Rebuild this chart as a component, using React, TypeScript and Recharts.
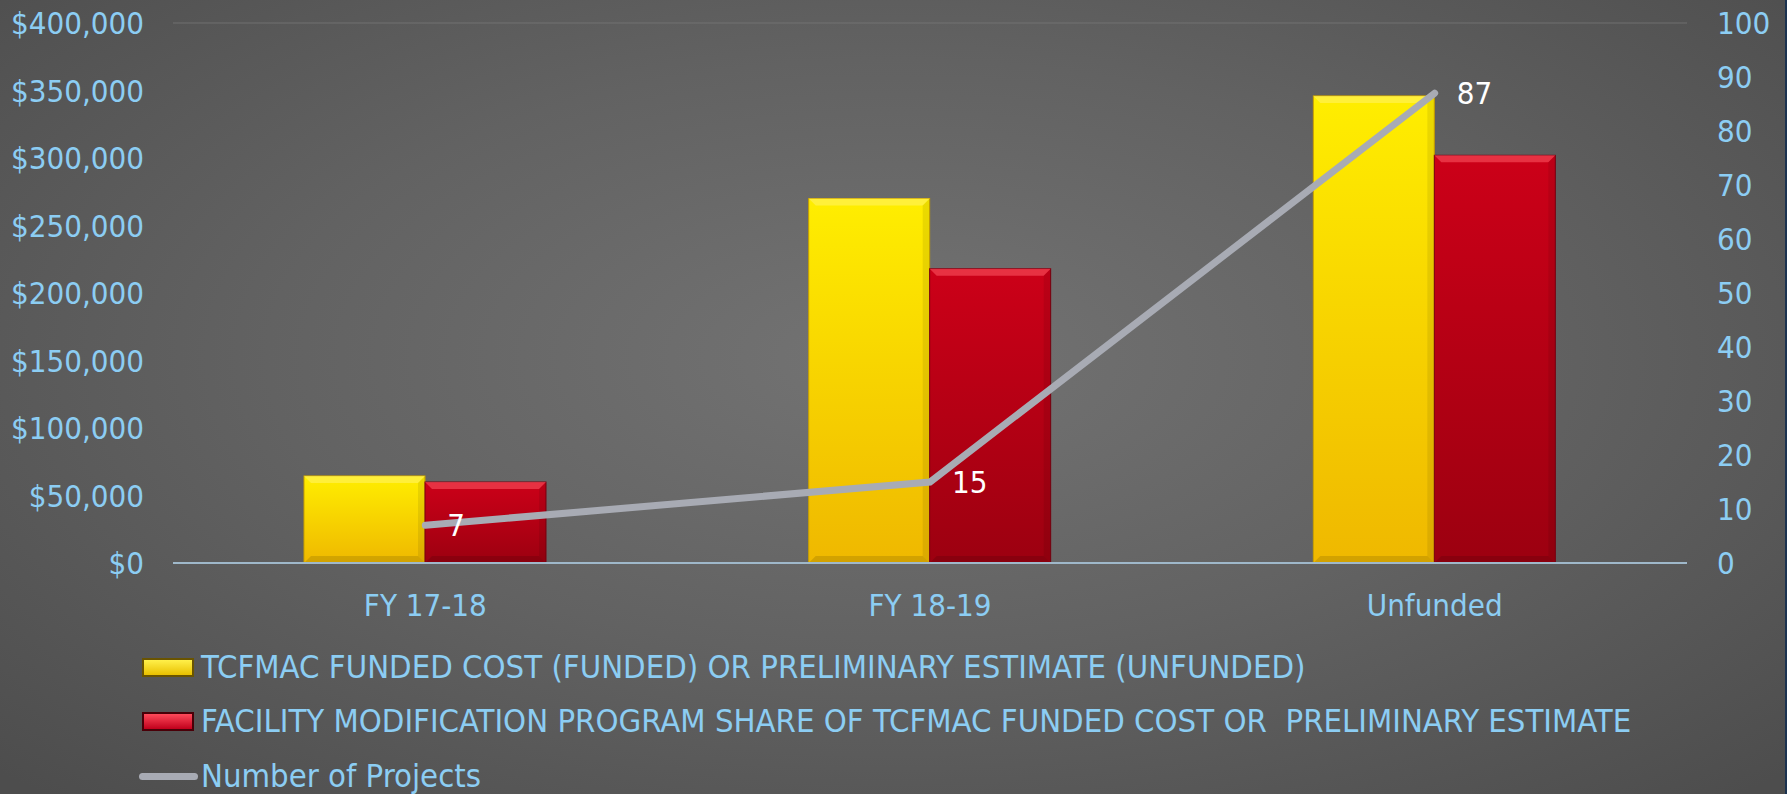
import React from 'react'
import { ComposedChart, Bar, Line, XAxis, YAxis, CartesianGrid, LabelList } from 'recharts'

const categories = ['FY 17-18', 'FY 18-19', 'Unfunded']
const fundedCost = [64500, 270000, 346000]
const programShare = [60000, 218000, 302000]
const projectCount = [7, 15, 87]
const costTicks = [0, 50000, 100000, 150000, 200000, 250000, 300000, 350000, 400000]
const countTicks = [0, 10, 20, 30, 40, 50, 60, 70, 80, 90, 100]

const seriesNames = [
  'TCFMAC FUNDED COST (FUNDED) OR PRELIMINARY ESTIMATE (UNFUNDED)',
  'FACILITY MODIFICATION PROGRAM SHARE OF TCFMAC FUNDED COST OR  PRELIMINARY ESTIMATE',
  'Number of Projects',
]

const data = categories.map((c, i) => ({
  name: c,
  funded: fundedCost[i],
  share: programShare[i],
  projects: projectCount[i],
}))

const FONT = "'DejaVu Sans Condensed', 'DejaVu Sans', sans-serif"
const BLUE = '#8ccdf3'

const fmtMoney = (v: number) => '$' + v.toLocaleString('en-US')

// bevelled bar like the office 3d preset
const makeBevel = (id: string, edge: string, light: string) => (props: any) => {
  const { x, y, width, height } = props
  if (!height || height <= 0) return null
  const b = 7
  return (
    <g>
      <rect x={x} y={y} width={width} height={height} fill={`url(#${id})`} stroke={edge} strokeWidth={1} />
      <polygon points={`${x},${y} ${x + width},${y} ${x + width - b},${y + b} ${x + b},${y + b}`} fill={light} opacity={0.55} />
      <polygon points={`${x + width},${y} ${x + width},${y + height} ${x + width - b},${y + height - b} ${x + width - b},${y + b}`} fill="#000" opacity={0.08} />
      <polygon points={`${x},${y + height} ${x + width},${y + height} ${x + width - b},${y + height - b} ${x + b},${y + height - b}`} fill="#000" opacity={0.12} />
    </g>
  )
}

const YellowBar = makeBevel('gYellow', '#c9a000', '#fff36a')
const RedBar = makeBevel('gRed', '#7a0010', '#ff5a66')

const rowStyle: React.CSSProperties = {
  position: 'absolute', left: 0, display: 'flex', alignItems: 'center', height: 34, whiteSpace: 'pre',
}

const LegendBox = () => (
  <div style={{ position: 'absolute', left: 139, top: 0, fontFamily: FONT, fontSize: 32.6, color: BLUE, lineHeight: '34px' }}>
    <div style={{ ...rowStyle, top: 650 }}>
      <span style={{ display: 'inline-block', width: 52, height: 19, marginLeft: 3, marginRight: 7, background: 'linear-gradient(#fff04a, #e9c000)', border: '2px solid #6a5400', boxSizing: 'border-box' }} />
      {seriesNames[0]}
    </div>
    <div style={{ ...rowStyle, top: 704 }}>
      <span style={{ display: 'inline-block', width: 52, height: 19, marginLeft: 3, marginRight: 7, background: 'linear-gradient(#ff4a5a, #c0001c)', border: '2px solid #4a0008', boxSizing: 'border-box' }} />
      {seriesNames[1]}
    </div>
    <div style={{ ...rowStyle, top: 759 }}>
      <span style={{ display: 'inline-block', width: 59, height: 7, borderRadius: 4, marginRight: 3, background: '#a8abb4' }} />
      {seriesNames[2]}
    </div>
  </div>
)

export default function App() {
  return (
    <div style={{
      width: 1787, height: 794, position: 'absolute', left: 0, top: 0,
      background: 'radial-gradient(ellipse 70% 75% at 50% 45%, #737373 0%, #626262 50%, #4d4d4d 100%)',
      borderRight: '2px solid #1c3350', boxSizing: 'border-box',
    }}>
      <style>{'body{margin:0}'}</style>
      <ComposedChart width={1787} height={794} data={data} barGap={0}
        margin={{ top: 23, right: 0, bottom: 201, left: 0 }}>
        <defs>
          <linearGradient id="gYellow" x1="0" y1="0" x2="0" y2="1">
            <stop offset="0%" stopColor="#ffee00" />
            <stop offset="100%" stopColor="#efb800" />
          </linearGradient>
          <linearGradient id="gRed" x1="0" y1="0" x2="0" y2="1">
            <stop offset="0%" stopColor="#cc0018" />
            <stop offset="100%" stopColor="#9c0010" />
          </linearGradient>
        </defs>
        <CartesianGrid vertical={false} stroke="#7c7c7c" strokeOpacity={0.7} />
        <XAxis dataKey="name" height={30} tickLine={false} tickSize={0} tickMargin={31}
          axisLine={{ stroke: '#9fb8ca', strokeWidth: 2 }}
          tick={{ fill: BLUE, fontSize: 31, fontFamily: FONT }} />
        <YAxis yAxisId="cost" domain={[0, 400000]} ticks={costTicks} width={173}
          axisLine={false} tickLine={false} tickSize={0} tickMargin={29}
          tickFormatter={fmtMoney} interval={0}
          tick={{ fill: BLUE, fontSize: 31, fontFamily: FONT }} />
        <YAxis yAxisId="count" orientation="right" domain={[0, 100]} ticks={countTicks} width={100}
          axisLine={false} tickLine={false} tickSize={0} tickMargin={30} interval={0}
          tick={{ fill: BLUE, fontSize: 31, fontFamily: FONT, textAnchor: 'start' }} />
        <Bar yAxisId="cost" dataKey="funded" name={seriesNames[0]} barSize={121}
          shape={YellowBar} isAnimationActive={false} />
        <Bar yAxisId="cost" dataKey="share" name={seriesNames[1]} barSize={121}
          shape={RedBar} isAnimationActive={false} />
        <Line yAxisId="count" dataKey="projects" name={seriesNames[2]} type="linear"
          stroke="#a8abb4" strokeWidth={7} strokeLinecap="round" dot={false} activeDot={false}
          isAnimationActive={false}>
          <LabelList dataKey="projects" position="right" offset={22} fill="#ffffff"
            style={{ fontSize: 31, fontFamily: FONT }} />
        </Line>
      </ComposedChart>
      <LegendBox />
    </div>
  )
}
